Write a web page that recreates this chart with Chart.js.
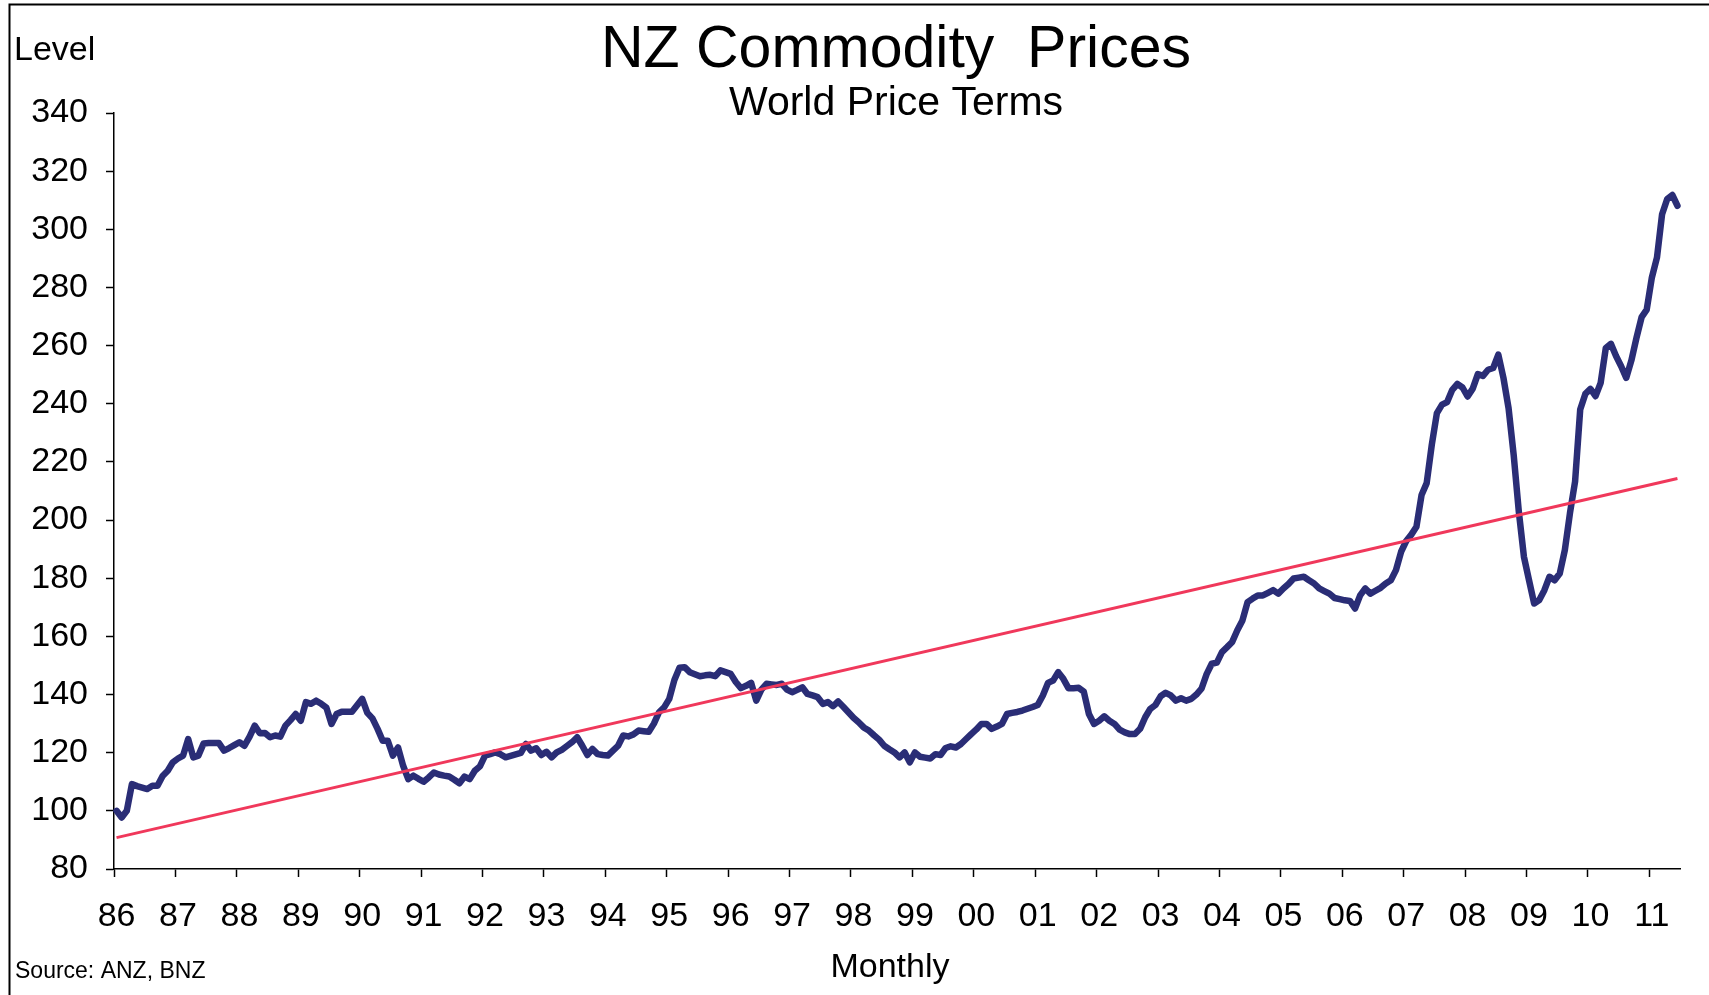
<!DOCTYPE html>
<html>
<head>
<meta charset="utf-8">
<title>NZ Commodity Prices</title>
<script src="https://cdn.jsdelivr.net/npm/chart.js@4.4.1/dist/chart.umd.min.js"></script>
<style>
  html, body { margin: 0; padding: 0; background: #fff; }
  #wrap { width: 1709px; height: 995px; }
</style>
</head>
<body>
<div id="wrap"><canvas id="commodityChart" width="1709" height="995"></canvas></div>
<script>
// monthly index, Jan 1986 .. Jun 2011 (one row per year)
const prices = [
  100, 97.7, 100, 109.2, 108.5, 108, 107.5, 108.6, 108.6, 112, 113.8, 116.7,
  118, 119, 124.7, 118.4, 119, 123.2, 123.3, 123.3, 123.3, 120.7, 121.6, 122.6,
  123.6, 122.4, 125.5, 129.3, 126.7, 126.8, 125.3, 125.9, 125.5, 129.3, 131.2, 133.3,
  131, 137.4, 136.8, 137.9, 136.8, 135.5, 129.9, 133.3, 134.1, 134.1, 134.1, 136.3,
  138.5, 133.7, 131.8, 128.2, 124.1, 124.1, 119, 121.8, 115.5, 110.9, 112.1, 111,
  110, 111.5, 113.2, 112.5, 112.1, 111.8, 110.7, 109.5, 111.8, 110.9, 113.8, 115.3,
  119, 119.5, 120.1, 119.5, 118.4, 118.9, 119.4, 119.9, 123, 120.7, 121.5, 119.2,
  120.3, 118.4, 120.1, 121, 122.3, 123.6, 125.3, 122.4, 119.2, 121.3, 119.5, 119.2,
  119, 120.7, 122.4, 125.9, 125.6, 126.3, 127.6, 127.4, 127.2, 130, 133.9, 135.6,
  138.5, 145, 149.2, 149.4, 147.7, 147, 146.3, 146.6, 146.8, 146.3, 148.3, 147.7,
  147.1, 144.3, 142.2, 143, 144, 137.9, 141.7, 143.7, 143.5, 143.3, 143.7, 141.7,
  140.8, 141.6, 142.5, 140.2, 139.7, 139.1, 136.8, 137.4, 136, 137.6, 135.8, 133.9,
  132, 130.5, 128.7, 127.6, 126, 124.5, 122.4, 121.2, 120.1, 118.4, 120.1, 116.7,
  120.1, 118.6, 118.3, 118, 119.5, 119.2, 121.6, 122.2, 121.8, 123, 124.7, 126.4,
  128, 129.9, 129.9, 128.2, 129, 129.9, 133.3, 133.7, 134, 134.5, 135.1, 135.7,
  136.4, 139.7, 144, 144.8, 147.7, 145.4, 142.2, 142.2, 142.3, 141, 133.3, 129.9,
  131, 132.5, 131, 129.9, 127.9, 127, 126.4, 126.4, 128.2, 132.2, 135.1, 136.4,
  139.4, 140.6, 139.7, 137.9, 138.7, 137.9, 138.5, 140, 142, 147, 150.6, 151,
  154.6, 156.3, 158.1, 162.1, 165.5, 171.8, 173, 174.1, 174.1, 175, 175.9, 174.7,
  176.5, 178, 179.9, 180.2, 180.5, 179.3, 178.2, 176.5, 175.6, 174.7, 173.2, 172.8,
  172.4, 172.2, 169.6, 174.1, 176.5, 174.7, 175.7, 176.7, 178.2, 179.3, 182.8, 189.1,
  192.8, 195, 197.7, 208.6, 212.7, 225.9, 236.8, 239.7, 240.6, 244.8, 246.8, 245.6,
  242.5, 245.2, 250.2, 249.6, 251.7, 252.3, 256.9, 248.9, 238.5, 222.4, 203, 187.4,
  179.3, 171.3, 172.5, 175.9, 180.5, 179.3, 181.6, 189.7, 202.4, 213.3, 238, 243.4,
  245.1, 242.6, 247.2, 259.2, 260.6, 256.4, 252.9, 248.9, 254.9, 262.7, 269.8, 272.4,
  283.4, 290.3, 305.2, 310.4, 311.8, 308.1
];

// linear trend, value at first and last month
const trendEnds = [90.8, 214.3];

const yearLabels = ['86', '87', '88', '89', '90', '91', '92', '93', '94', '95', '96', '97', '98',
  '99', '00', '01', '02', '03', '04', '05', '06', '07', '08', '09', '10', '11'];
const yTicks = [80, 100, 120, 140, 160, 180, 200, 220, 240, 260, 280, 300, 320, 340];

const monthNames = ['Jan', 'Feb', 'Mar', 'Apr', 'May', 'Jun', 'Jul', 'Aug', 'Sep', 'Oct', 'Nov', 'Dec'];
const months = prices.map((_, i) => monthNames[i % 12] + '-' + yearLabels[Math.floor(i / 12)]);

const trendData = prices.map((_, i) => {
  if (i === 0) return trendEnds[0];
  if (i === prices.length - 1) return trendEnds[1];
  return null;
});

const FONT = '"Liberation Sans", Arial, sans-serif';

// border frame + titles, drawn straight on the canvas
const frameAndText = {
  id: 'frameAndText',
  afterDraw(chart) {
    const c = chart.ctx;
    c.save();
    c.strokeStyle = '#000';
    c.lineWidth = 2;
    c.beginPath();
    c.moveTo(9.5, 995);
    c.lineTo(9.5, 4.5);
    c.lineTo(1709, 4.5);
    c.stroke();

    c.fillStyle = '#000';
    c.textBaseline = 'alphabetic';
    c.textAlign = 'center';
    c.font = '59px ' + FONT;
    c.fillText('NZ Commodity  Prices', 896, 67);
    c.font = '41px ' + FONT;
    c.fillText('World Price Terms', 896, 115);
    c.font = '34px ' + FONT;
    c.fillText('Monthly', 890, 977);

    c.textAlign = 'left';
    c.fillText('Level', 14, 60);
    c.font = '23px ' + FONT;
    c.fillText('Source: ANZ, BNZ', 15, 978);
    c.restore();
  }
};

const ctx = document.getElementById('commodityChart');

new Chart(ctx, {
  type: 'line',
  data: {
    labels: months,
    datasets: [
      {
        label: 'NZ Commodity Prices',
        data: prices,
        borderColor: '#2A2D76',
        borderWidth: 6.5,
        borderJoinStyle: 'round',
        borderCapStyle: 'round',
        pointRadius: 0,
        tension: 0,
        order: 1
      },
      {
        label: 'Trend',
        data: trendData,
        borderColor: '#F0385B',
        borderWidth: 3,
        pointRadius: 0,
        spanGaps: true,
        order: 0
      }
    ]
  },
  options: {
    responsive: false,
    animation: false,
    devicePixelRatio: 1,
    layout: { padding: { left: 0, right: 29, top: 113, bottom: 0 } },
    plugins: {
      legend: { display: false },
      tooltip: { enabled: false }
    },
    scales: {
      x: {
        type: 'category',
        offset: true,
        grid: {
          offset: true,
          drawOnChartArea: false,
          drawTicks: true,
          tickLength: 8,
          tickWidth: 1.5,
          tickColor: c => (c.index % 12 === 0 ? '#000' : 'rgba(0,0,0,0)')
        },
        border: { display: true, color: '#000', width: 1.5 },
        ticks: {
          autoSkip: false,
          maxRotation: 0,
          minRotation: 0,
          padding: 19,
          color: '#000',
          font: { family: FONT, size: 34 },
          callback: (v, i) => (i % 12 === 0 ? yearLabels[i / 12] : '')
        },
        afterFit: s => { s.height = 126; }
      },
      y: {
        min: yTicks[0],
        max: yTicks[yTicks.length - 1],
        grid: {
          drawOnChartArea: false,
          tickLength: 8,
          tickWidth: 1.5,
          tickColor: '#000'
        },
        border: { color: '#000', width: 1.5 },
        ticks: {
          stepSize: yTicks[1] - yTicks[0],
          padding: 18,
          color: '#000',
          font: { family: FONT, size: 34 }
        },
        afterFit: s => { s.width = 114; }
      }
    }
  },
  plugins: [frameAndText]
});
</script>
</body>
</html>
